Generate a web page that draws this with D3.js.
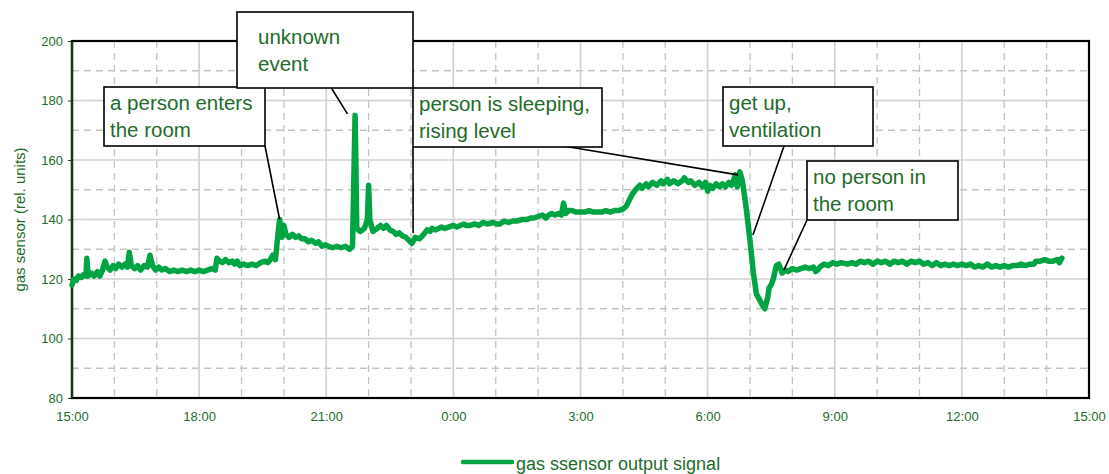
<!DOCTYPE html>
<html><head><meta charset="utf-8">
<script src="https://cdn.jsdelivr.net/npm/d3@7"></script>
<style>body{margin:0;background:#fff}svg{display:block;font-family:"Liberation Sans",Arial,sans-serif}</style>
</head><body><svg id="c" width="1109" height="474"></svg>
<script>
// ---- data: [hours after 15:00, sensor value] ----
const readings = [
[0.00,118],[0.04,120],[0.1,119.5],[0.15,121],[0.22,120.5],[0.28,121.5],[0.33,121],[0.35,127],[0.38,121],[0.45,122],[0.52,121],[0.6,122.5],[0.66,121],[0.72,123],[0.78,126],[0.83,124],[0.9,123],[0.97,124.5],[1.03,123.5],[1.1,125],[1.18,124],[1.25,125],[1.31,124],[1.35,129],[1.4,124.5],[1.48,123.5],[1.55,124.5],[1.62,123],[1.7,124.5],[1.78,124],[1.84,128],[1.9,124.5],[1.97,123],[2.05,124],[2.12,123],[2.2,123.5],[2.3,122.5],[2.4,123],[2.5,122.5],[2.6,123],[2.7,122.5],[2.8,123],[2.9,122.5],[3.0,123],[3.1,122.5],[3.2,123],[3.3,123.5],[3.38,123],[3.42,127],[3.48,126],[3.55,125.5],[3.62,126.5],[3.7,125.5],[3.78,126],[3.84,125],[3.9,126],[3.96,124.5],[4.05,125],[4.15,124.5],[4.25,125],[4.35,124.5],[4.45,125.5],[4.55,126],[4.62,125.5],[4.68,126.5],[4.74,128],[4.8,126.5],
[4.86,135],[4.9,140],[4.95,134],[5.0,138],[5.05,135],[5.12,134],[5.2,135],[5.28,134],[5.35,134.5],[5.42,133.5],[5.5,133.5],[5.58,132.5],[5.65,133],[5.75,132],[5.82,132.5],[5.9,131],[5.98,131.5],[6.05,131],[6.15,130.5],[6.25,131],[6.35,130.5],[6.45,131],[6.55,130],[6.62,131],
[6.66,160],[6.68,175],[6.70,158],[6.72,137],[6.8,136],[6.9,137],[6.97,140],[7.0,151.5],[7.03,140],[7.1,136],[7.2,137],[7.28,138],[7.35,137],[7.42,138],[7.5,136.5],[7.58,136],[7.65,135],[7.72,135.5],[7.8,134.5],[7.88,134],[7.95,133],[8.02,132],[8.1,134],[8.2,133.5],[8.3,135],[8.38,136.5],[8.45,136],[8.5,137],[8.58,136.5],[8.65,137],[8.72,137.5],[8.8,137],[8.9,137.5],[9.0,138],[9.08,137.5],[9.16,138],[9.25,138.5],[9.3,138],[9.4,138],[9.5,138.5],[9.6,138],[9.7,139],[9.8,138.5],[9.94,139],[10.02,138.5],[10.1,138.5],[10.2,139.5],[10.3,139],[10.4,139.5],[10.5,139.5],[10.62,140],[10.74,140],[10.82,140.5],[10.9,140.5],[11.0,141],[11.1,141.5],[11.18,140.5],[11.25,141.5],[11.32,142],[11.4,141.5],[11.48,142],[11.55,141.5],[11.6,145.5],[11.65,142],[11.72,143],[11.8,143],[11.9,142.5],[12.0,142.5],[12.1,142.5],[12.2,143],[12.3,142.5],[12.4,142.5],[12.5,142.5],[12.6,143],[12.7,142.5],[12.8,143],[12.9,143],[13.0,143.5],[13.08,144.5],[13.15,146.5],[13.22,148.5],
[13.3,150],[13.4,151.5],[13.45,150.5],[13.55,152],[13.6,151],[13.7,152.5],[13.8,151.5],[13.9,153],[13.95,152],[14.05,153.5],[14.1,152],[14.2,153],[14.3,152],[14.4,153],[14.45,154],[14.55,152.5],[14.6,153],[14.7,151.5],[14.8,152.5],[14.88,151],[14.95,152.5],[15.0,149.5],[15.05,151.5],[15.12,150.5],[15.2,152],[15.28,151],[15.35,152],[15.42,151],[15.5,152.5],[15.56,151.5],[15.6,152.5],[15.65,155],[15.7,151],[15.76,156],[15.82,153],
[15.9,145],[16.0,133],[16.08,122],[16.15,115],[16.3,111],[16.35,110],[16.42,114],[16.45,117],[16.5,118],[16.55,120],[16.62,124.5],[16.68,125],[16.76,122],[16.83,123],[16.9,122.5],[17.0,123.5],[17.1,123],[17.2,123.5],[17.3,124],[17.4,123.5],[17.5,124],[17.55,122.5],[17.6,123],[17.65,124],[17.75,125],[17.85,124.5],[17.95,125.5],[18.05,125],[18.15,125.5],[18.3,125],[18.4,125.5],[18.5,125],[18.6,126],[18.7,125.5],[18.8,126],[18.9,125],[19.0,126],[19.1,125.5],[19.2,126],[19.3,125],[19.4,126],[19.5,125.5],[19.6,126],[19.7,125],[19.8,126],[19.9,125.5],[20.0,126],[20.1,125],[20.2,125.5],[20.3,124.5],[20.4,125.5],[20.5,124.5],[20.6,125],[20.7,124.5],[20.8,125],[20.9,124.5],[21.0,125],[21.1,124.5],[21.2,125],[21.3,124],[21.4,124.5],[21.5,124],[21.6,125],[21.7,124],[21.8,124.5],[21.9,124],[22.0,124.5],[22.1,124],[22.2,124.5],[22.3,124.5],[22.4,125],[22.5,124.5],[22.6,125],[22.7,125],[22.75,126],[22.85,126],[22.95,126.5],[23.05,126],[23.15,126],[23.25,126.5],[23.3,125.5],[23.36,127]
];
const xTickValues = [0,3,6,9,12,15,18,21,24];
const xTickLabels = ["15:00","18:00","21:00","0:00","3:00","6:00","9:00","12:00","15:00"];
const yTickValues = [80,100,120,140,160,180,200];
const yTitle = "gas sensor (rel. units)";
const seriesName = "gas ssensor output signal";
// annotation texts and the data point each one points at (hour, value)
const noteLines = [["a person enters","the room"],["unknown","event"],["person is sleeping,","rising level"],["get up,","ventilation"],["no person in","the room"]];
const noteTargets = [[[4.9,140]],[[6.5,175.5]],[[8.05,135.5],[15.72,155]],[[16.07,134.8]],[[16.8,123]]];

// ---- layout ----
const L=72, R=1089, T=41, B=398;
const green="#00a443", txt="#236b2a";
const boxes=[ // x,y,w,h, text offset x, first baseline offset, leader start points
 {x:104,y:87,w:161,h:59,tx:6,ty:23,from:[[265,146]]},
 {x:237,y:12,w:176,h:76,tx:21,ty:32,from:[[327,81]]},
 {x:413,y:88,w:189,h:59,tx:6,ty:23,from:[[413,147],[563,146]]},
 {x:723,y:87,w:150,h:59,tx:6,ty:23,from:[[784,146]]},
 {x:807,y:161,w:151,h:59,tx:6,ty:23,from:[[807,220]]}
];

const svg=d3.select("#c");
const x=d3.scaleLinear().domain([0,24]).range([L,R]);
const y=d3.scaleLinear().domain([80,200]).range([B,T]);

// grid
const g=svg.append("g");
d3.range(1,24).filter(h=>h%3!==0).forEach(h=>g.append("line").attr("x1",x(h)).attr("x2",x(h)).attr("y1",T).attr("y2",B).attr("stroke","#c4c4c4").attr("stroke-width",1.3).attr("stroke-dasharray","7,5"));
d3.range(90,200,20).forEach(v=>g.append("line").attr("x1",L).attr("x2",R).attr("y1",y(v)).attr("y2",y(v)).attr("stroke","#c4c4c4").attr("stroke-width",1.3).attr("stroke-dasharray","7,5"));
xTickValues.slice(1,-1).forEach(h=>g.append("line").attr("x1",x(h)).attr("x2",x(h)).attr("y1",T).attr("y2",B).attr("stroke","#d0d0d0").attr("stroke-width",1.6));
yTickValues.slice(1,-1).forEach(v=>g.append("line").attr("x1",L).attr("x2",R).attr("y1",y(v)).attr("y2",y(v)).attr("stroke","#d0d0d0").attr("stroke-width",1.6));

// axes
const yAx=svg.append("g").attr("transform",`translate(${L},0)`).call(d3.axisLeft(y).tickValues(yTickValues).tickSize(4).tickPadding(5));
yAx.select(".domain").remove();
yAx.selectAll("line").attr("stroke","#333");
yAx.selectAll("text").attr("font-size",13).attr("fill",txt).attr("font-family","Liberation Sans, Arial");
const xAx=svg.append("g").attr("transform",`translate(0,${B})`).call(d3.axisBottom(x).tickValues(xTickValues).tickFormat((d,i)=>xTickLabels[i]).tickSize(0).tickPadding(14));
xAx.select(".domain").remove();
xAx.selectAll("text").attr("font-size",13).attr("fill",txt).attr("font-family","Liberation Sans, Arial");

// border
svg.append("rect").attr("x",L).attr("y",T).attr("width",R-L).attr("height",B-T).attr("fill","none").attr("stroke","#000").attr("stroke-width",2.2);
svg.append("line").attr("x1",L).attr("x2",L).attr("y1",T).attr("y2",B).attr("stroke","#173a1a").attr("stroke-width",2.4);

// y title
svg.append("text").attr("transform",`translate(25,${(T+B)/2}) rotate(-90)`).attr("text-anchor","middle").attr("font-size",15).attr("fill",txt).text(yTitle);

// series
svg.append("path").datum(readings).attr("d",d3.line().x(d=>x(d[0])).y(d=>y(d[1]))).attr("fill","none").attr("stroke",green).attr("stroke-width",5.5).attr("stroke-linejoin","round").attr("stroke-linecap","round");

// annotations
boxes.forEach((b,i)=>{
  b.from.forEach((f,j)=>{
    const t=noteTargets[i][j];
    svg.append("line").attr("x1",f[0]).attr("y1",f[1]).attr("x2",x(t[0])).attr("y2",y(t[1])).attr("stroke","#000").attr("stroke-width",1.6);
  });
});
boxes.forEach((b,i)=>{
  svg.append("rect").attr("x",b.x).attr("y",b.y).attr("width",b.w).attr("height",b.h).attr("fill","#fff").attr("stroke","#000").attr("stroke-width",1.6);
  noteLines[i].forEach((s,k)=>svg.append("text").attr("x",b.x+b.tx).attr("y",b.y+b.ty+k*27).attr("font-size",20.5).attr("fill",txt).text(s));
});

// legend
svg.append("line").attr("x1",463).attr("x2",512).attr("y1",462).attr("y2",462).attr("stroke",green).attr("stroke-width",4.5).attr("stroke-linecap","round");
svg.append("text").attr("x",516).attr("y",470).attr("font-size",18).attr("fill",txt).text(seriesName);
</script></body></html>
